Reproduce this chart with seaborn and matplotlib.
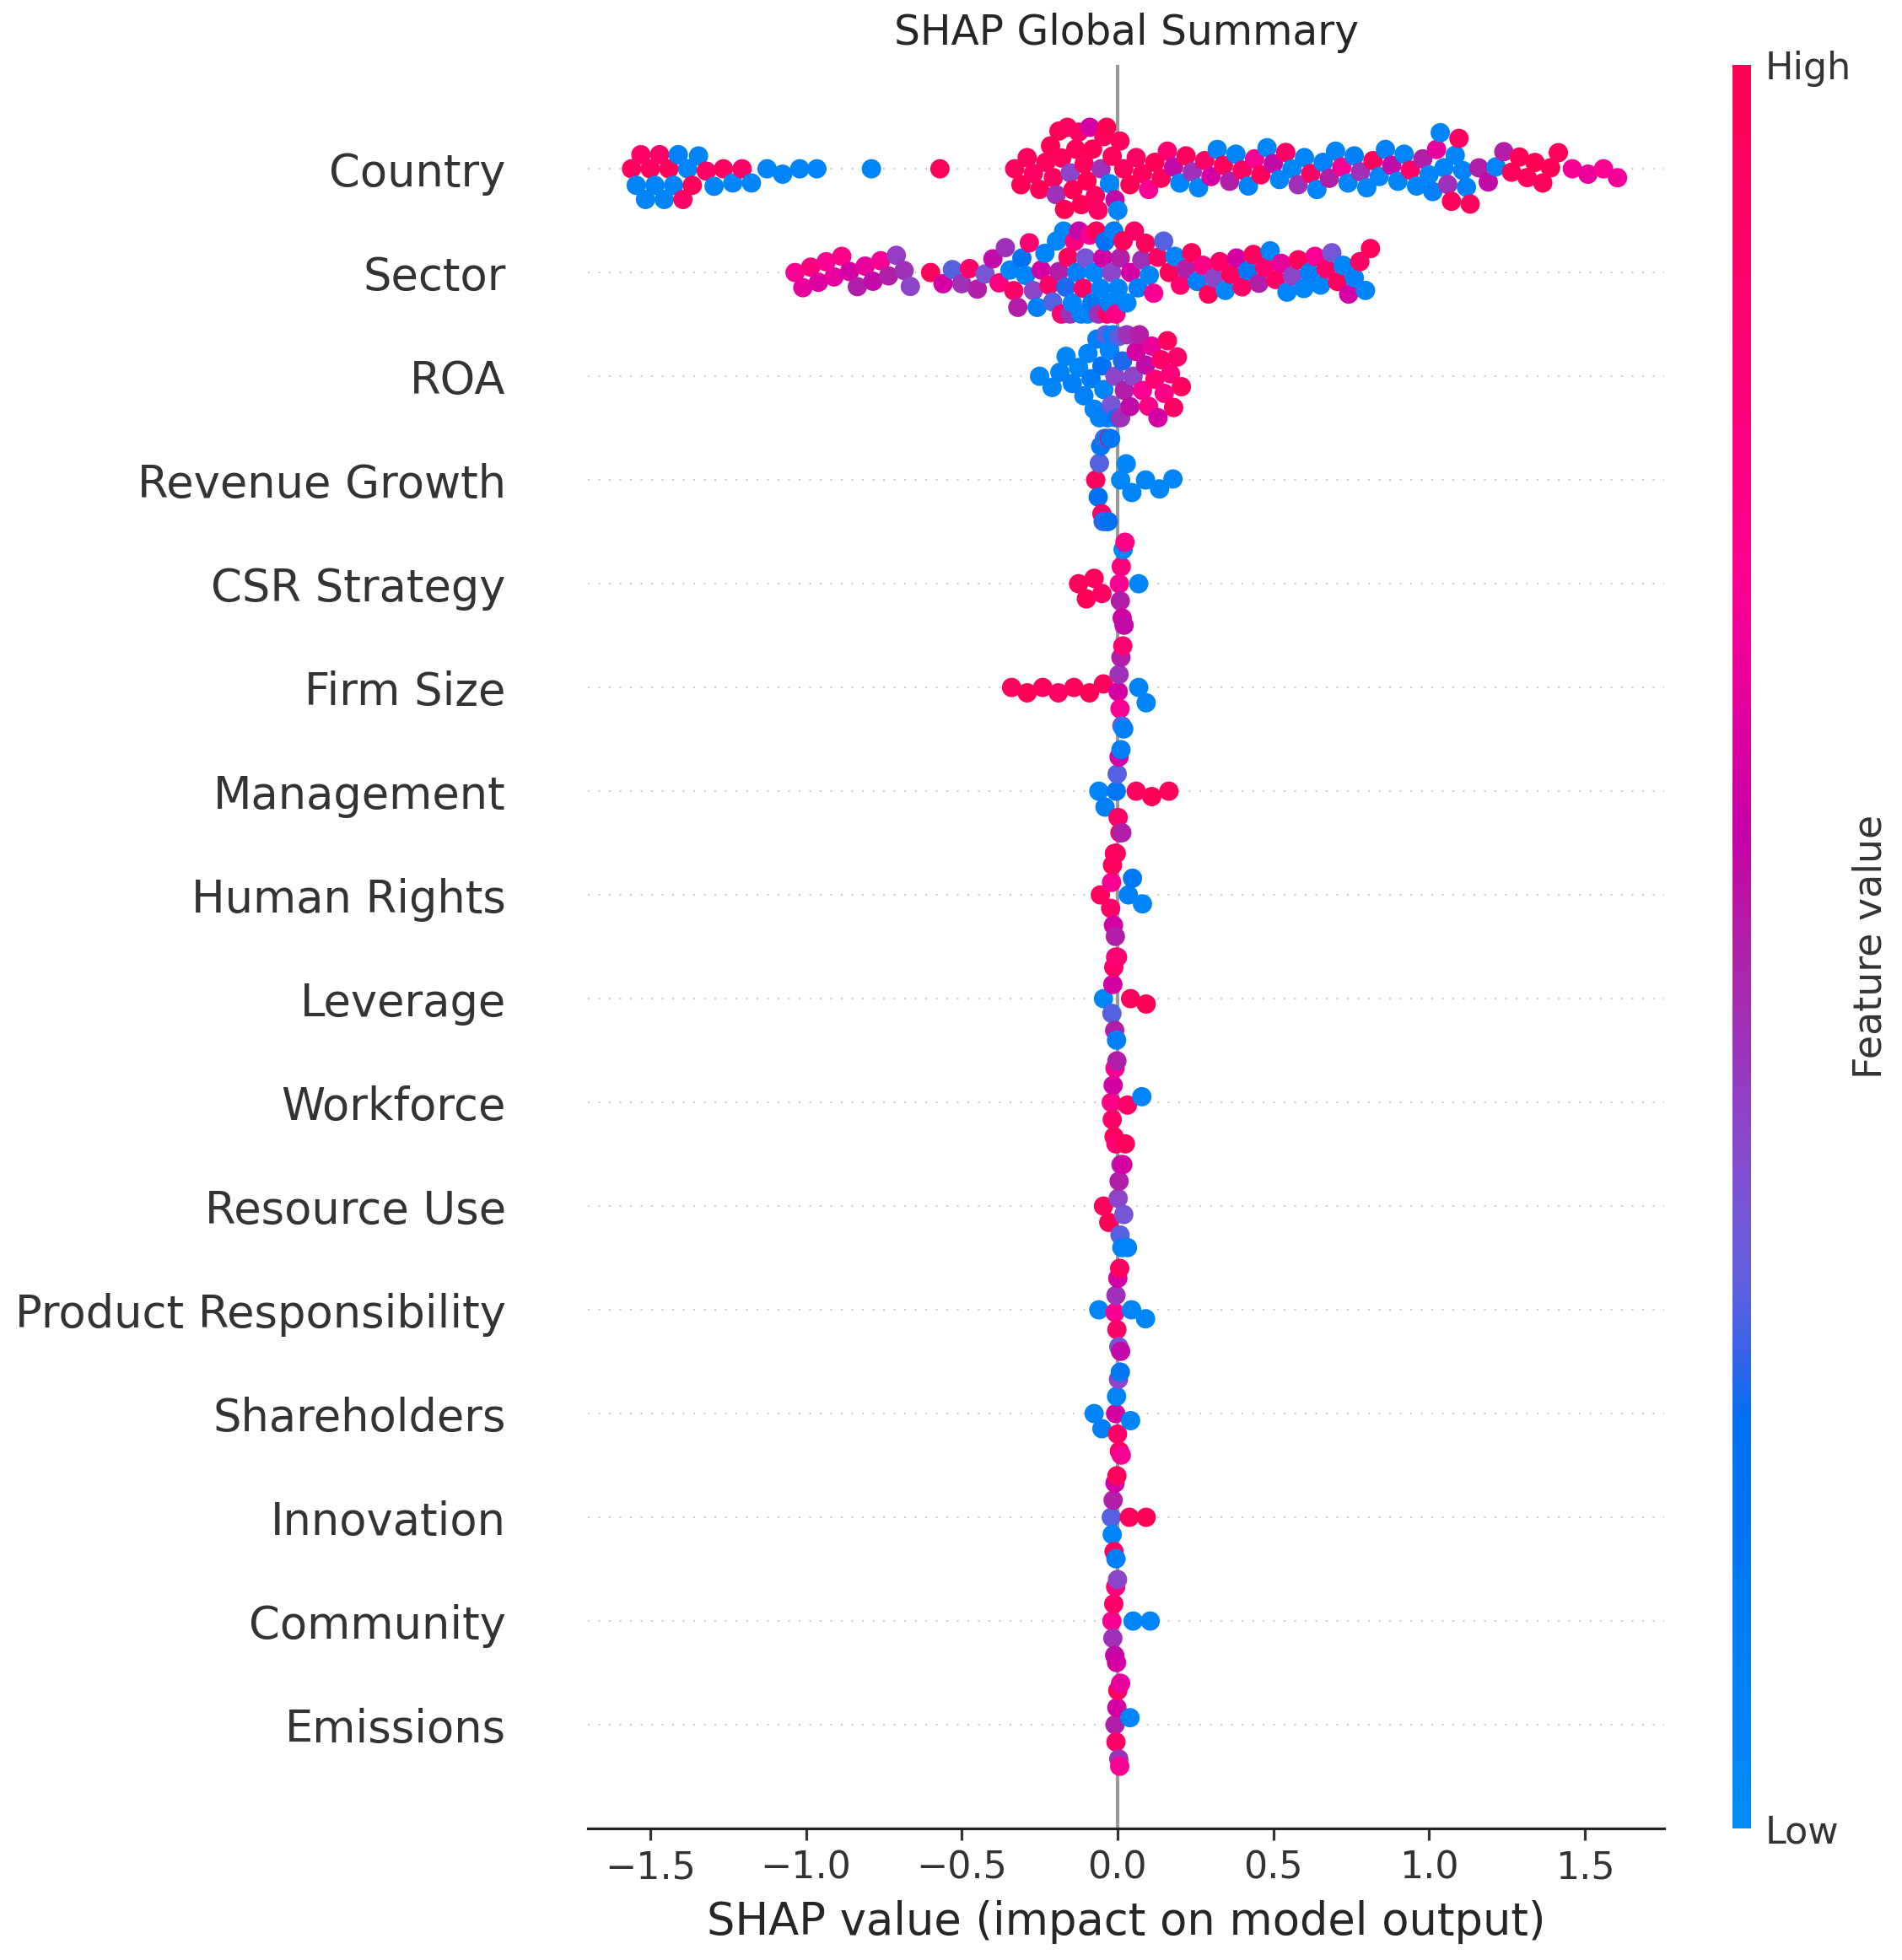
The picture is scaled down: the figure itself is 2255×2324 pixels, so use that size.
import pandas as pd
import matplotlib
matplotlib.use("Agg")
import matplotlib.pyplot as plt
from matplotlib.colors import LinearSegmentedColormap, Normalize
from matplotlib.cm import ScalarMappable
import seaborn as sns

sns.set_theme(style="white")
plt.rcParams["font.family"] = ["DejaVu Sans"]

# feature names, top to bottom
features = ["Country", "Sector", "ROA", "Revenue Growth", "CSR Strategy",
            "Firm Size", "Management", "Human Rights", "Leverage", "Workforce",
            "Resource Use", "Product Responsibility", "Shareholders",
            "Innovation", "Community", "Emissions"]

# (shap value, normalised feature value)
country = [
    (-1.560, .95), (-1.545, .05), (-1.530, .92), (-1.515, .05), (-1.500, .95),
    (-1.485, .05), (-1.470, .90), (-1.455, .05), (-1.440, .95), (-1.425, .05),
    (-1.410, .08), (-1.395, .90), (-1.380, .05), (-1.365, .95), (-1.345, .06),
    (-1.320, .92), (-1.295, .05), (-1.265, .94), (-1.235, .05), (-1.205, .90),
    (-1.175, .05),
    (-1.125, .05), (-1.075, .06), (-1.020, .05), (-0.965, .05),
    (-0.790, .05), (-0.570, .95),
    (-0.330, .95), (-0.310, .98), (-0.290, .95), (-0.270, .92), (-0.250, .98),
    (-0.230, .95), (-0.215, 1.0), (-0.206, .95), (-0.197, .45), (-0.188, .98),
    (-0.179, .95), (-0.170, 1.0), (-0.161, .95), (-0.152, .40), (-0.143, .98),
    (-0.134, .95), (-0.125, .92), (-0.116, .98), (-0.107, .95), (-0.098, 1.0),
    (-0.089, .60), (-0.080, .98), (-0.071, .95), (-0.062, .92), (-0.053, .45),
    (-0.044, .95), (-0.035, 1.0), (-0.026, .05), (-0.017, .95), (-0.008, .55),
    (0.001, .05), (0.008, .95),
    (0.020, .95), (0.040, .98), (0.060, .92), (0.080, .95), (0.100, .70),
    (0.120, .98), (0.140, .95), (0.160, .85), (0.180, .55), (0.200, .05),
    (0.220, .95), (0.240, .45), (0.260, .05), (0.280, .90), (0.300, .60),
    (0.320, .05), (0.340, .95), (0.360, .50), (0.380, .05), (0.400, .92),
    (0.420, .08), (0.440, .70), (0.460, .95), (0.480, .05), (0.500, .55),
    (0.520, .05), (0.540, .90), (0.560, .05), (0.580, .45), (0.600, .05),
    (0.620, .92), (0.640, .05), (0.660, .08), (0.680, .50), (0.700, .05),
    (0.720, .70), (0.740, .05), (0.760, .10), (0.780, .45), (0.800, .05),
    (0.820, .95), (0.840, .05), (0.860, .08), (0.880, .55), (0.900, .05),
    (0.920, .05), (0.940, .90), (0.960, .05), (0.980, .50), (1.000, .05),
    (1.012, .08), (1.024, .65), (1.036, .05), (1.048, .05), (1.060, .45),
    (1.072, .95), (1.084, .05), (1.096, .92), (1.108, .05), (1.120, .08),
    (1.132, .95),
    (1.160, .50), (1.190, .55), (1.215, .05), (1.240, .50),
    (1.265, .95), (1.290, .98), (1.315, .95), (1.340, 1.0), (1.365, .95),
    (1.390, .98), (1.415, .95),
    (1.460, .70), (1.510, .65), (1.560, .72), (1.605, .68),
]
sector = [
    (-1.035, .70), (-1.010, .65), (-0.985, .80), (-0.960, .62), (-0.935, .70),
    (-0.910, .65), (-0.885, .75), (-0.860, .60), (-0.835, .50), (-0.810, .65),
    (-0.785, .55), (-0.760, .70), (-0.735, .50), (-0.710, .42), (-0.685, .45),
    (-0.665, .40),
    (-0.600, .95),
    (-0.560, .60), (-0.530, .30), (-0.500, .45), (-0.475, .90), (-0.450, .50),
    (-0.425, .35), (-0.400, .55), (-0.380, .80),
    (-0.360, .45), (-0.345, .05), (-0.333, .90), (-0.320, .50), (-0.307, .20),
    (-0.295, .05), (-0.283, .85), (-0.270, .40), (-0.258, .10), (-0.245, .60),
    (-0.233, .05), (-0.220, .90), (-0.208, .30), (-0.196, .05), (-0.188, .50),
    (-0.180, .85), (-0.173, .05), (-0.166, .25), (-0.159, .95), (-0.152, .45),
    (-0.145, .05), (-0.138, .80), (-0.131, .10), (-0.124, .55), (-0.117, .05),
    (-0.110, .90), (-0.103, .35), (-0.096, .05), (-0.089, .70), (-0.082, .15),
    (-0.075, .05), (-0.068, .95), (-0.061, .45), (-0.054, .05), (-0.047, .60),
    (-0.040, .20), (-0.033, .85), (-0.026, .05), (-0.019, .40), (-0.012, .10),
    (-0.005, .75), (0.002, .05), (0.009, .50),
    (0.018, .95), (0.030, .05), (0.042, .60), (0.054, .90), (0.066, .10),
    (0.078, .45), (0.090, .95), (0.102, .05), (0.116, .70), (0.130, .92),
    (0.148, .30), (0.166, .95), (0.184, .05), (0.202, .85), (0.220, .50),
    (0.238, .95), (0.256, .10), (0.274, .75), (0.292, .95), (0.310, .40),
    (0.328, .90), (0.346, .05), (0.364, .95), (0.382, .60), (0.400, .90),
    (0.418, .15), (0.436, .95), (0.454, .50), (0.472, .85), (0.490, .05),
    (0.508, .92), (0.526, .65), (0.544, .05), (0.562, .40), (0.580, .95),
    (0.598, .05), (0.616, .10), (0.634, .70), (0.652, .05), (0.670, .90),
    (0.688, .35), (0.706, .95), (0.724, .05), (0.742, .60), (0.760, .08),
    (0.778, .92), (0.796, .05), (0.812, .95),
]
roa = [
    (-0.250, .05), (-0.210, .05), (-0.185, .08), (-0.165, .05), (-0.145, .10),
    (-0.125, .05), (-0.108, .08), (-0.095, .05), (-0.085, .12), (-0.075, .05),
    (-0.066, .10), (-0.058, .08), (-0.050, .20), (-0.044, .05), (-0.038, .30),
    (-0.032, .10), (-0.026, .05), (-0.020, .35), (-0.014, .08), (-0.008, .40),
    (-0.002, .15), (0.004, .30), (0.010, .45), (0.016, .25), (0.022, .50),
    (0.030, .45), (0.040, .55), (0.050, .40), (0.060, .60), (0.070, .50),
    (0.080, .70), (0.090, .55), (0.100, .75), (0.110, .65), (0.120, .85),
    (0.130, .60), (0.140, .90), (0.150, .75), (0.160, .95), (0.170, .80),
    (0.180, .92), (0.192, .88), (0.205, .95),
]
revenue_growth = [
    (-0.070, .95), (-0.062, .20), (-0.058, .30), (-0.054, .15), (-0.050, .90),
    (-0.046, .25), (-0.042, .35), (-0.038, .10), (-0.034, .30), (-0.030, .20),
    (-0.026, .90), (-0.022, .15),
    (0.010, .05), (0.028, .05), (0.046, .05),
    (0.090, .05), (0.135, .05), (0.178, .05),
]
csr_strategy = [
    (-0.125, .95), (-0.100, .98), (-0.075, .95), (-0.050, .92),
    (0.006, .70), (0.009, .50), (0.012, .80), (0.015, .60), (0.018, .05),
    (0.021, .55), (0.024, .75),
    (0.068, .05),
]
firm_size = [
    (-0.340, .95), (-0.290, .98), (-0.240, .95), (-0.190, .92), (-0.140, .95),
    (-0.090, .98), (-0.045, .95),
    (0.002, .60), (0.005, .45), (0.008, .70), (0.011, .50), (0.014, .30),
    (0.017, .85), (0.020, .10),
    (0.068, .05), (0.092, .05),
]
management = [
    (-0.060, .05), (-0.040, .10),
    (-0.004, .15), (-0.001, .30), (0.002, .90), (0.005, .60), (0.008, .95),
    (0.011, .10), (0.014, .50),
    (0.060, .95), (0.110, .98), (0.165, .95),
]
human_rights = [
    (-0.055, .95),
    (-0.022, .90), (-0.019, .70), (-0.016, .95), (-0.013, .60), (-0.010, .85),
    (-0.007, .50), (-0.004, .95),
    (0.035, .10), (0.048, .15), (0.080, .05),
]
leverage = [
    (-0.045, .05),
    (-0.018, .30), (-0.015, .60), (-0.012, .90), (-0.009, .50), (-0.006, .70),
    (-0.003, .10), (0.000, .85),
    (0.042, .95), (0.092, .98),
]
workforce = [
    (-0.020, .75), (-0.017, .90), (-0.014, .60), (-0.011, .95), (-0.008, .70),
    (-0.005, .85), (-0.002, .50),
    (0.025, .95), (0.032, .90),
    (0.078, .05),
]
resource_use = [
    (-0.045, .95), (-0.028, .98),
    (0.002, .40), (0.005, .50), (0.008, .30), (0.011, .45), (0.014, .10),
    (0.017, .60), (0.020, .35),
    (0.032, .05),
]
product_responsibility = [
    (-0.060, .05),
    (-0.008, .70), (-0.005, .45), (-0.002, .90), (0.001, .60), (0.004, .35),
    (0.007, .95), (0.010, .55),
    (0.045, .05), (0.090, .05),
]
shareholders = [
    (-0.075, .05), (-0.050, .10),
    (-0.006, .60), (-0.003, .05), (0.000, .90), (0.003, .40), (0.006, .95),
    (0.009, .15), (0.012, .70),
    (0.042, .05),
]
innovation = [
    (-0.020, .30), (-0.017, .05), (-0.014, .50), (-0.011, .90), (-0.008, .60),
    (-0.005, .10), (-0.002, .95),
    (0.038, .95), (0.092, .98),
]
community = [
    (-0.018, .70), (-0.015, .45), (-0.012, .90), (-0.009, .55), (-0.006, .80),
    (-0.003, .60), (0.000, .40),
    (0.050, .05), (0.105, .05),
]
emissions = [
    (-0.008, .50), (-0.005, .90), (-0.002, .60), (0.001, .95), (0.004, .45),
    (0.007, .70), (0.010, .65),
    (0.040, .05),
]

feature_points = [country, sector, roa, revenue_growth, csr_strategy, firm_size,
                  management, human_rights, leverage, workforce, resource_use,
                  product_responsibility, shareholders, innovation, community,
                  emissions]

x_ticks = [-1.5, -1.0, -0.5, 0.0, 0.5, 1.0, 1.5]

records = []
for name, pts in zip(features, feature_points):
    for s, v in pts:
        records.append((name, s, v))
df = pd.DataFrame(records, columns=["feature", "shap", "value"])

# blue -> purple -> red, like the shap colormap
shap_cmap = LinearSegmentedColormap.from_list("shap_red_blue", [
    (0.00, "#008bfa"), (0.15, "#0078f5"), (0.23, "#006ff0"), (0.27, "#3a62e6"),
    (0.31, "#6060de"), (0.37, "#8050d0"), (0.43, "#9838c0"), (0.50, "#b020a8"),
    (0.57, "#c800a8"), (0.63, "#e000a0"), (0.72, "#ff0090"), (0.82, "#ff0078"),
    (1.00, "#ff0052"),
])

fig = plt.figure(figsize=(22.55, 23.24), dpi=100)
ax = fig.add_axes([0.3091, 0.0671, 0.5659, 0.8997])
cax = fig.add_axes([0.9109, 0.0671, 0.0098, 0.8997])

for i in range(len(features)):
    ax.axhline(i, color="#cccccc", lw=1.5, dashes=(1, 5), zorder=-1)
ax.axvline(0, color="#999999", lw=3, zorder=-1)

sns.swarmplot(data=df, x="shap", y="feature", order=features, hue="value",
              palette=shap_cmap, hue_norm=(0, 1), size=14, linewidth=0,
              orient="h", legend=False, warn_thresh=1.0, ax=ax)

ax.set_ylim(16, -1)
ax.set_xlim(-1.70, 1.755)
ax.set_xticks(x_ticks)
ax.set_ylabel("")
ax.set_xlabel("SHAP value (impact on model output)", fontsize=38, labelpad=12)
ax.set_title("SHAP Global Summary", fontsize=35, pad=17.5)

for side in ["top", "left", "right"]:
    ax.spines[side].set_visible(False)
ax.spines["bottom"].set_linewidth(2.3)
ax.spines["bottom"].set_color("#222222")
ax.tick_params(axis="y", length=0, pad=70, labelsize=38, labelcolor="#333333")
ax.tick_params(axis="x", bottom=True, length=10, width=2.3, color="#333333",
               labelsize=32, labelcolor="#333333", pad=8)
ax.grid(False)

cb = fig.colorbar(ScalarMappable(norm=Normalize(0, 1), cmap=shap_cmap),
                  cax=cax, ticks=[0, 1])
cb.set_ticklabels(["Low", "High"])
cb.ax.tick_params(labelsize=32, length=0, pad=12, labelcolor="#333333")
cb.set_label("Feature value", size=33, labelpad=0, color="#333333")
cb.outline.set_visible(False)

# lay out the swarms once, then keep those positions and draw the dots a bit
# larger so neighbours overlap like in the shap beeswarm
fig.canvas.draw()
for coll in ax.collections:
    if "draw" in vars(coll):
        del coll.draw
        coll.set_sizes([16.5 ** 2])

fig.savefig("out.png", dpi=100)
